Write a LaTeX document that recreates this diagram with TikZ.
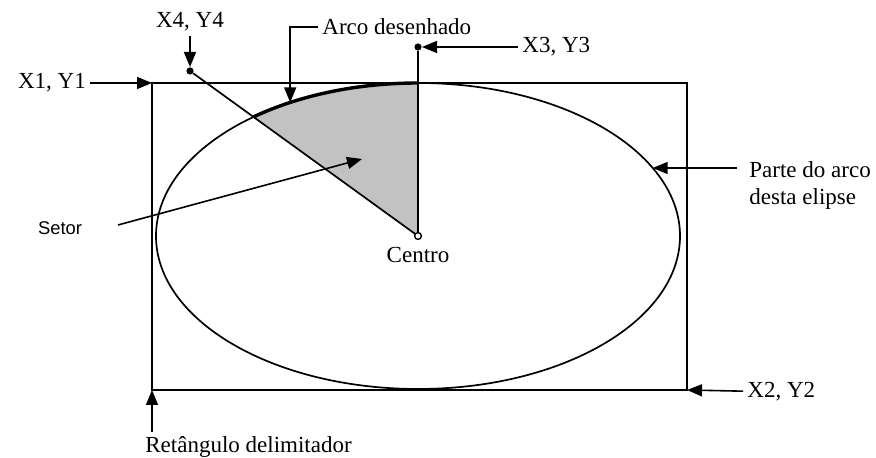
\documentclass[tikz,border=0pt]{standalone}
\usepackage{fontspec}
\setmainfont{Liberation Serif}
\newfontfamily\arialfont{Liberation Sans}
\usetikzlibrary{arrows.meta,calc,positioning}

\begin{document}
\begin{tikzpicture}[
    x=0.5pt, y=0.5pt,
    font=\fontsize{11.5}{13.5}\selectfont,
    label/.style={inner sep=2pt},
    pointer/.style={-{Triangle[length=7.5pt,width=6pt]}, line width=0.8pt},
    outline/.style={line width=0.85pt},
    dot/.style={circle, fill, inner sep=0pt, minimum size=3.6pt},
    hole/.style={circle, draw, fill=white, inner sep=0pt, minimum size=3.4pt, line width=0.7pt}
  ]
    \useasboundingbox (0,0) rectangle (876,458);

    \coordinate (centre) at (418,222);
    \coordinate (corner1) at (152,375);
    \coordinate (corner2) at (687,68);
    \coordinate (cornerbl) at (152,68);
    \coordinate (arcstart) at ($(centre)+(128.9:262 and 153)$);
    \coordinate (arctip) at ($(centre)+(119.2:262 and 153)$);
    \coordinate (partetip) at ($(centre)+(26.4:262 and 153)$);

    % sector and bounding shapes
    \fill[black!24] (centre) -- (arcstart)
      arc[start angle=128.9, end angle=90, x radius=262, y radius=153] -- cycle;
    \draw[outline] (corner1) rectangle (corner2);
    \draw[outline] (centre) ellipse [x radius=262, y radius=153];
    \draw[line width=1.7pt] (arcstart)
      arc[start angle=128.9, end angle=90, x radius=262, y radius=153];

    \node[dot] (x3) at (418,411) {};
    \node[dot] (x4) at (190,387) {};
    \draw[outline] (x4) -- (centre);
    \draw[outline] (x3) -- (centre);
    \node[hole] (c) at (centre) {};

    % labels
    \node[label] (x1y1) at (52,375) {X1, Y1};
    \node[label] (x4y4) at (190,436) {X4, Y4};
    \node[label, anchor=west] (arcolbl) at (318,431) {Arco desenhado};
    \node[label, anchor=west] (x3y3) at (518,411) {X3, Y3};
    \node[label, font=\arialfont\fontsize{9.2}{11}\selectfont] (setor) at (60,230) {Setor};
    \node[label] (centrolbl) at (418,203) {Centro};
    \node[label, anchor=north west, align=left] (parte) at (745,301) {Parte do arco\\desta elipse};
    \node[label, anchor=west] (x2y2) at (743,66) {X2, Y2};
    \node[label, anchor=west] (retangulo) at (141,11) {Retângulo delimitador};

    \coordinate (setorfrom) at (118,233);
    \coordinate (setortip) at (362,299);
    \coordinate (partefrom) at ([shift={(-8,-11)}]parte.north west);

    % pointers
    \draw[pointer] (x1y1) -- (corner1);
    \draw[pointer] (x4y4) -- (x4);
    \draw[pointer] (arcolbl.west) -| (arctip);
    \draw[pointer] (x3y3) -- (x3);
    \draw[pointer] (setorfrom) -- (setortip);
    \draw[pointer] (partefrom) -- (partefrom -| partetip);
    \draw[pointer] (x2y2) -- (corner2);
    \draw[pointer] (retangulo.north -| cornerbl) -- (cornerbl);
  \end{tikzpicture}
\end{document}
